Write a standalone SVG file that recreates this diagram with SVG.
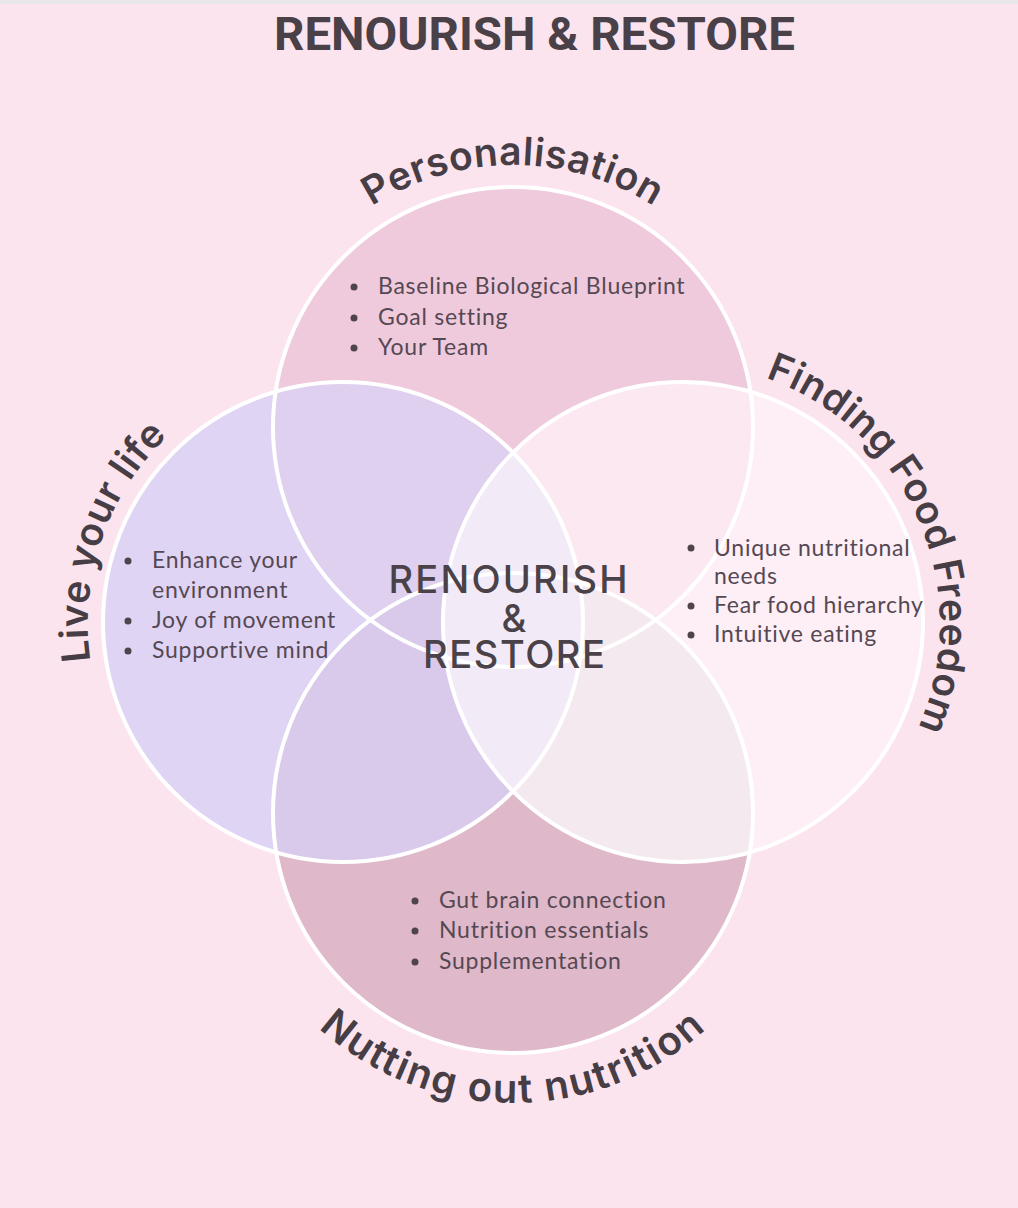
<svg xmlns="http://www.w3.org/2000/svg" width="1018" height="1208" viewBox="0 0 1018 1208">
  <style>
    .title { font-family: "Roboto", "Liberation Sans", sans-serif; font-weight: 700; font-size: 46px; fill: #4a4047; }
    .center { font-family: "Inter", "Liberation Sans", sans-serif; font-weight: 500; font-size: 38px; fill: #4a4248; }
    .arc { font-family: "Inter", "Liberation Sans", sans-serif; font-weight: 600; font-size: 39px; letter-spacing: 0.5px; fill: #473d45; }
    .arcb { font-family: "Inter", "Liberation Sans", sans-serif; font-weight: 600; font-size: 40px; letter-spacing: 1.8px; fill: #473d45; }
    .item { font-family: "Lato", "Liberation Sans", sans-serif; font-size: 23px; letter-spacing: 0.75px; fill: #564853; }
    .dot { fill: #4f434c; }
    .outline { fill: none; stroke: #ffffff; stroke-width: 4; }
  </style>
  <defs>
    <clipPath id="cT"><circle cx="513" cy="427" r="240"/></clipPath>
    <clipPath id="cL"><circle cx="343" cy="622" r="240"/></clipPath>
    <clipPath id="cR"><circle cx="683" cy="622" r="240"/></clipPath>
    <clipPath id="cB"><circle cx="513" cy="813" r="240"/></clipPath>
    <path id="pTop" d="M 251 427 A 262 262 0 0 1 775 427"/>
    <path id="pLeft" d="M 258.4 867.8 A 260 260 0 0 1 427.6 376.2"/>
    <path id="pRight" d="M 579.3 383.6 A 260 260 0 0 1 786.7 860.4"/>
    <path id="pBottom" d="M 223 813 A 290 290 0 0 0 803 813"/>
  </defs>

  <rect x="0" y="0" width="1018" height="1208" fill="#fce4ef"/>
  <rect x="0" y="0" width="1018" height="4" fill="#e8e6eb"/>

  <text class="title" x="534.5" y="50" text-anchor="middle" textLength="521" lengthAdjust="spacingAndGlyphs">RENOURISH &amp; RESTORE</text>

  <g id="fills">
    <circle cx="513" cy="427" r="240" fill="#efcadc"/>
    <circle cx="343" cy="622" r="240" fill="#e0d4f5"/>
    <circle cx="513" cy="813" r="240" fill="#dfb8c9"/>
    <circle cx="683" cy="622" r="240" fill="#fdeff5"/>
  </g>
  <g id="overlaps">
    <circle cx="343" cy="622" r="240" fill="#dfd0f0" clip-path="url(#cT)"/>
    <circle cx="683" cy="622" r="240" fill="#fce8f1" clip-path="url(#cT)"/>
    <circle cx="343" cy="622" r="240" fill="#d9c9eb" clip-path="url(#cB)"/>
    <circle cx="683" cy="622" r="240" fill="#f4e9ee" clip-path="url(#cB)"/>
    <circle cx="343" cy="622" r="240" fill="#f2ebf7" clip-path="url(#cR)"/>
  </g>
  <g id="outlines">
    <circle class="outline" cx="513" cy="427" r="240"/>
    <circle class="outline" cx="343" cy="622" r="240"/>
    <circle class="outline" cx="683" cy="622" r="240"/>
    <circle class="outline" cx="513" cy="813" r="240"/>
  </g>

  <g id="connectors"></g>

  <g id="node-personalisation">
    <text class="arc"><textPath href="#pTop" startOffset="50%" text-anchor="middle">Personalisation</textPath></text>
    <circle class="dot" cx="354" cy="287" r="3.5"/>
    <circle class="dot" cx="354" cy="318" r="3.5"/>
    <circle class="dot" cx="354" cy="348" r="3.5"/>
    <text class="item" x="378" y="294">Baseline Biological Blueprint</text>
    <text class="item" x="378" y="325">Goal setting</text>
    <text class="item" x="378" y="355">Your Team</text>
  </g>

  <g id="node-live-your-life">
    <text class="arc"><textPath href="#pLeft" startOffset="50%" text-anchor="middle">Live your life</textPath></text>
    <circle class="dot" cx="128" cy="561" r="3.5"/>
    <circle class="dot" cx="128" cy="621" r="3.5"/>
    <circle class="dot" cx="128" cy="651" r="3.5"/>
    <text class="item" x="152" y="568">Enhance your</text>
    <text class="item" x="152" y="598">environment</text>
    <text class="item" x="152" y="628">Joy of movement</text>
    <text class="item" x="152" y="658">Supportive mind</text>
  </g>

  <g id="node-finding-food-freedom">
    <text class="arc"><textPath href="#pRight" startOffset="50%" text-anchor="middle">Finding Food Freedom</textPath></text>
    <circle class="dot" cx="691" cy="548" r="3.5"/>
    <circle class="dot" cx="691" cy="606" r="3.5"/>
    <circle class="dot" cx="691" cy="635" r="3.5"/>
    <text class="item" x="714" y="556">Unique nutritional</text>
    <text class="item" x="714" y="584">needs</text>
    <text class="item" x="714" y="613">Fear food hierarchy</text>
    <text class="item" x="714" y="642">Intuitive eating</text>
  </g>

  <g id="node-nutting-out-nutrition">
    <text class="arcb"><textPath href="#pBottom" startOffset="50%" text-anchor="middle">Nutting out nutrition</textPath></text>
    <circle class="dot" cx="415" cy="901" r="3.5"/>
    <circle class="dot" cx="415" cy="931" r="3.5"/>
    <circle class="dot" cx="415" cy="962" r="3.5"/>
    <text class="item" x="439" y="908">Gut brain connection</text>
    <text class="item" x="439" y="938">Nutrition essentials</text>
    <text class="item" x="439" y="969">Supplementation</text>
  </g>

  <g id="node-center">
    <text class="center" x="508" y="593" text-anchor="middle" textLength="239" lengthAdjust="spacing">RENOURISH</text>
    <text class="center" x="514" y="632" text-anchor="middle">&amp;</text>
    <text class="center" x="514" y="668" text-anchor="middle" textLength="182" lengthAdjust="spacing">RESTORE</text>
  </g>
</svg>
